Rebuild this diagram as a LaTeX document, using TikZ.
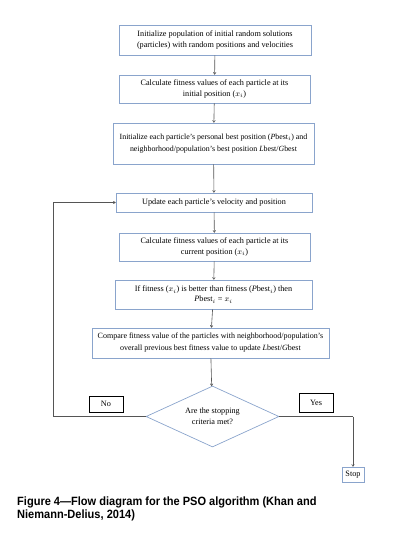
\documentclass[tikz,border=0pt]{standalone}
\usepackage{fontspec}
\setmainfont{Liberation Serif}
\newfontfamily\capfont[FakeStretch=0.92]{Liberation Sans}
\usetikzlibrary{shapes.geometric,arrows.meta}
\definecolor{boxblue}{HTML}{8AA4CC}
\definecolor{arrowgray}{HTML}{555555}
\tikzset{
  flowbox/.style={draw=boxblue, line width=0.7pt, inner sep=0.5pt, align=center,
    font=\fontsize{8.2}{10.5}\selectfont},
  decision/.style={draw=boxblue, line width=0.7pt, diamond, aspect=2.18, inner sep=0pt,
    minimum width=133pt, minimum height=61pt, align=center, font=\fontsize{8.2}{11}\selectfont},
  tagbox/.style={draw=black, line width=0.7pt, inner sep=0pt, font=\fontsize{8.2}{9}\selectfont},
  flow/.style={draw=arrowgray, line width=0.6pt, -{To[length=2.5pt,width=3pt]}},
  flowline/.style={draw=arrowgray, line width=0.6pt}
}
\begin{document}
\begin{tikzpicture}[x=1pt,y=-1pt]
\useasboundingbox (0,0) rectangle (401,541);
\node[flowbox, minimum width=192pt, minimum height=30pt] (b1) at (215,40)
  {Initialize population of initial random solutions\\(particles) with random positions and velocities};
\node[flowbox, minimum width=191pt, minimum height=28pt] (b2) at (214.5,89)
  {Calculate fitness values of each particle at its\\initial position ($x_i$)};
\node[flowbox, minimum width=201pt, minimum height=41pt, font=\fontsize{7.9}{11.5}\selectfont] (b3) at (213.5,143.5)
  {Initialize each particle's personal best position (\textit{P}best$_i$) and\\neighborhood/population's best position \textit{L}best/\textit{G}best};
\node[flowbox, minimum width=196pt, minimum height=19pt] (b4) at (214,202.5)
  {Update each particle's velocity and position};
\node[flowbox, minimum width=191pt, minimum height=28pt] (b5) at (214.5,247)
  {Calculate fitness values of each particle at its\\current position ($x_i$)};
\node[flowbox, minimum width=197pt, minimum height=29pt, font=\fontsize{8.2}{10}\selectfont] (b6) at (213.5,294.5)
  {If fitness ($x_i$) is better than fitness (\textit{P}best$_i$) then\\\textit{P}best$_i$ = $x_i$};
\node[flowbox, minimum width=237pt, minimum height=30pt, font=\fontsize{8}{12}\selectfont] (b7) at (210.5,343)
  {Compare fitness value of the particles with neighborhood/population's\\overall previous best fitness value to update \textit{L}best/\textit{G}best};
\node[decision] (d) at (212.5,416.5) {Are the stopping\\criteria met?};
\node[tagbox, minimum width=34pt, minimum height=16pt] (no) at (106,404) {No};
\node[tagbox, minimum width=34pt, minimum height=19pt] (yes) at (316,402.5) {Yes};
\node[flowbox, minimum width=22pt, minimum height=15pt] (stop) at (353,474.5) {Stop};
\coordinate (l1) at (53,416.5);
\coordinate (l2) at (53,202.5);
\coordinate (r1) at (353,416.5);
\draw[flow] (b1) -- (b2);
\draw[flow] (b2) -- (b3);
\draw[flow] (b3) -- (b4);
\draw[flow] (b4) -- (b5);
\draw[flow] (b5) -- (b6);
\draw[flow] (b6) -- (b7);
\draw[flow] (b7) -- (d);
\draw[flowline] (d.west) -- (l1) -- (l2);
\draw[flow] (l2) -- (b4.west);
\draw[flowline] (d.east) -- (r1);
\draw[flow] (r1) -- (stop.north);
\node[anchor=base west, inner sep=0pt, font=\capfont\bfseries\fontsize{12}{13}\selectfont] (cap1) at (17,505)
  {Figure 4—Flow diagram for the PSO algorithm (Khan and};
\node[anchor=base west, inner sep=0pt, font=\capfont\bfseries\fontsize{12}{13}\selectfont] (cap2) at (17,518)
  {Niemann-Delius, 2014)};
\end{tikzpicture}
\end{document}
